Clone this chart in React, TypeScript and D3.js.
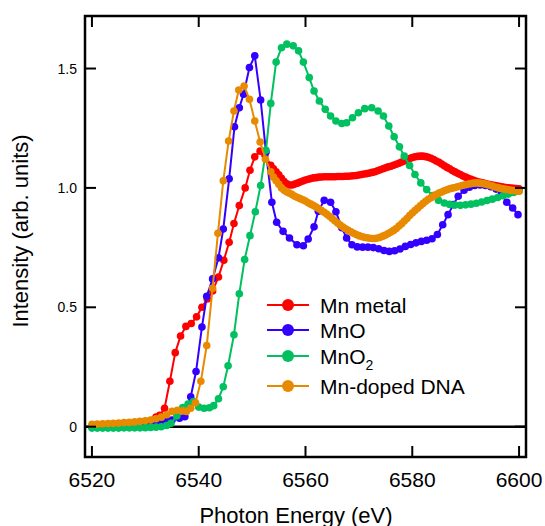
import React from 'react';
import * as d3 from 'd3';

// [energy (eV), intensity]
const mnMetal: [number, number][] = [
  [6520, 0.0], [6521, 0.002], [6522, 0.003], [6523, 0.004], [6524, 0.005], [6525, 0.006],
  [6526, 0.008], [6527, 0.01], [6528, 0.012], [6529, 0.015], [6530, 0.019], [6531, 0.026],
  [6532, 0.04], [6532.7, 0.048], [6533.6, 0.077], [6534.6, 0.19], [6535.6, 0.31], [6536.6, 0.38],
  [6537.6, 0.42], [6538.6, 0.432], [6539.6, 0.46], [6540.6, 0.5], [6541.6, 0.535], [6542.6, 0.568],
  [6543.7, 0.627], [6544.7, 0.697], [6545.7, 0.772], [6546.6, 0.851], [6547.6, 0.926], [6548.7, 1.0],
  [6549.6, 1.074], [6550.5, 1.13], [6551.5, 1.154], [6552.4, 1.138], [6553.5, 1.095],
  [6554, 1.08], [6554.5, 1.068], [6555, 1.055], [6555.5, 1.04], [6556, 1.027], [6556.5, 1.017],
  [6557, 1.012], [6557.5, 1.012], [6558, 1.016], [6558.5, 1.02], [6559, 1.025], [6559.5, 1.029],
  [6560, 1.033], [6560.5, 1.036], [6561, 1.039], [6561.5, 1.042], [6562, 1.043], [6562.5, 1.045],
  [6563, 1.046], [6563.5, 1.047], [6564, 1.047], [6564.5, 1.047], [6565, 1.047], [6565.5, 1.047],
  [6566, 1.048], [6566.5, 1.048], [6567, 1.048], [6567.5, 1.049], [6568, 1.049], [6568.5, 1.05],
  [6569, 1.051], [6569.5, 1.052], [6570, 1.054], [6570.5, 1.056], [6571, 1.058], [6571.5, 1.06],
  [6572, 1.062], [6572.5, 1.065], [6573, 1.068], [6573.5, 1.072], [6574, 1.076], [6574.5, 1.08],
  [6575, 1.084], [6575.5, 1.088], [6576, 1.091], [6576.5, 1.095], [6577, 1.099], [6577.5, 1.103],
  [6578, 1.108], [6578.5, 1.113], [6579, 1.118], [6579.5, 1.123], [6580, 1.127], [6580.5, 1.13],
  [6581, 1.132], [6581.5, 1.133], [6582, 1.133], [6582.5, 1.131], [6583, 1.128], [6583.5, 1.124],
  [6584, 1.119], [6584.5, 1.113], [6585, 1.107], [6585.5, 1.1], [6586, 1.093], [6586.5, 1.086],
  [6587, 1.08], [6587.5, 1.073], [6588, 1.067], [6588.5, 1.061], [6589, 1.056], [6589.5, 1.05],
  [6590, 1.045], [6590.5, 1.04], [6591, 1.036], [6591.5, 1.032], [6592, 1.028], [6592.5, 1.025],
  [6593, 1.022], [6593.5, 1.019], [6594, 1.016], [6594.5, 1.014], [6595, 1.012], [6595.5, 1.01],
  [6596, 1.008], [6596.5, 1.006], [6597, 1.004], [6597.5, 1.002], [6598, 1.0], [6598.5, 0.999],
  [6599, 0.998], [6599.5, 0.997], [6600, 0.996],
];

const mnO: [number, number][] = [
  [6520, 0.0], [6521, 0.0], [6522, 0.0], [6523, 0.001], [6524, 0.001], [6525, 0.002],
  [6526, 0.002], [6527, 0.003], [6528, 0.003], [6529, 0.004], [6530, 0.005], [6531, 0.008],
  [6532, 0.012], [6533, 0.016], [6534, 0.022], [6535, 0.028], [6536.4, 0.035], [6537.4, 0.042],
  [6538.5, 0.125], [6539.5, 0.231], [6540.6, 0.417], [6541.5, 0.546], [6542.6, 0.619], [6543.7, 0.707],
  [6544.6, 0.828], [6545.7, 1.038], [6546.7, 1.256], [6547.6, 1.336], [6548.4, 1.392], [6549.5, 1.504],
  [6550.5, 1.553], [6551.6, 1.368], [6552.6, 1.15], [6553.7, 0.94], [6554.6, 0.856], [6555.8, 0.818],
  [6557, 0.79], [6558.4, 0.762], [6559.6, 0.758], [6560.5, 0.786], [6561.6, 0.837], [6562.4, 0.902],
  [6563.5, 0.948], [6564.7, 0.94], [6565.7, 0.9], [6566.8, 0.833], [6567.7, 0.79], [6568.7, 0.762],
  [6569.7, 0.753], [6570.7, 0.752], [6571.7, 0.752], [6572.7, 0.75], [6573.7, 0.745], [6574.7, 0.738],
  [6575.7, 0.734], [6576.7, 0.737], [6577.7, 0.744], [6578.7, 0.755], [6579.7, 0.763], [6580.7, 0.77],
  [6581.7, 0.776], [6582.7, 0.781], [6583.7, 0.787], [6584.7, 0.805], [6585.7, 0.846], [6586.7, 0.888],
  [6587.7, 0.93], [6588.6, 0.965], [6589.7, 0.99], [6590.7, 1.003], [6591.7, 1.01], [6592.7, 1.012],
  [6593.7, 1.01], [6594.7, 1.005], [6595.7, 0.995], [6596.7, 0.975], [6597.7, 0.94], [6598.8, 0.916],
  [6599.8, 0.888],
];

const mnO2: [number, number][] = [
  [6520, -0.006], [6521, -0.006], [6522, -0.006], [6523, -0.006], [6524, -0.006], [6525, -0.006],
  [6526, -0.005], [6527, -0.005], [6528, -0.005], [6529, -0.005], [6530, -0.004], [6531, -0.003],
  [6532, -0.002], [6533, 0.0], [6534, 0.005], [6534.8, 0.014], [6535.9, 0.045], [6537, 0.08],
  [6538, 0.095], [6539, 0.105], [6540, 0.082], [6541, 0.077], [6542, 0.079], [6542.8, 0.088],
  [6543.7, 0.117], [6544.6, 0.167], [6545.5, 0.255], [6546.6, 0.385], [6547.6, 0.557], [6548.6, 0.7],
  [6549.6, 0.8], [6550.6, 0.9], [6551.6, 1.01], [6552.6, 1.158], [6553.5, 1.354], [6554.5, 1.527],
  [6555.5, 1.587], [6556.5, 1.602], [6557.7, 1.595], [6558.7, 1.574], [6559.6, 1.527], [6560.7, 1.462],
  [6561.6, 1.406], [6562.6, 1.364], [6563.7, 1.329], [6564.7, 1.301], [6565.7, 1.28], [6566.8, 1.27],
  [6567.7, 1.273], [6568.8, 1.294], [6569.9, 1.315], [6571.1, 1.332], [6572.4, 1.336], [6573.6, 1.322],
  [6574.6, 1.301], [6575.6, 1.259], [6576.6, 1.214], [6577.6, 1.172], [6578.5, 1.133], [6579.5, 1.094],
  [6580.5, 1.056], [6581.6, 1.021], [6582.7, 0.993], [6583.8, 0.968], [6584.9, 0.948], [6586, 0.937],
  [6587, 0.931], [6588, 0.928], [6589, 0.927], [6590, 0.929], [6591, 0.932], [6592, 0.936],
  [6593, 0.941], [6594, 0.947], [6595, 0.953], [6596, 0.96], [6597, 0.967], [6598, 0.974],
  [6599, 0.981], [6600, 0.987],
];

const mnDNA: [number, number][] = [
  [6520, 0.01], [6521, 0.011], [6522, 0.012], [6523, 0.013], [6524, 0.014], [6525, 0.015],
  [6526, 0.017], [6527, 0.018], [6528, 0.02], [6529, 0.022], [6530, 0.025], [6531, 0.028],
  [6532, 0.033], [6533, 0.04], [6534, 0.05], [6535, 0.064], [6536, 0.069], [6537, 0.066],
  [6537.7, 0.064], [6538.5, 0.077], [6539.4, 0.1], [6540.4, 0.19], [6541.5, 0.34], [6542.6, 0.58],
  [6543.6, 0.81], [6544.6, 1.03], [6545.6, 1.196], [6546.6, 1.322], [6547.5, 1.41], [6548.5, 1.427],
  [6549.5, 1.371], [6550.5, 1.28], [6551.5, 1.192], [6552.5, 1.12], [6553.5, 1.068],
  [6554, 1.045], [6554.5, 1.03], [6555, 1.015], [6555.5, 1.0], [6556, 0.99], [6556.5, 0.983],
  [6557, 0.978], [6557.5, 0.972], [6558, 0.965], [6558.5, 0.96], [6559, 0.955], [6559.5, 0.95],
  [6560, 0.945], [6560.5, 0.938], [6561, 0.932], [6561.5, 0.926], [6562, 0.92], [6562.5, 0.913],
  [6563, 0.905], [6563.5, 0.898], [6564, 0.89], [6564.5, 0.881], [6565, 0.872], [6565.5, 0.862],
  [6566, 0.853], [6566.5, 0.844], [6567, 0.836], [6567.5, 0.829], [6568, 0.822], [6568.5, 0.816],
  [6569, 0.81], [6569.5, 0.805], [6570, 0.8], [6570.5, 0.796], [6571, 0.793], [6571.5, 0.791],
  [6572, 0.789], [6572.5, 0.788], [6573, 0.788], [6573.5, 0.79], [6574, 0.793], [6574.5, 0.798],
  [6575, 0.803], [6575.5, 0.809], [6576, 0.815], [6576.5, 0.822], [6577, 0.83], [6577.5, 0.84],
  [6578, 0.85], [6578.5, 0.861], [6579, 0.872], [6579.5, 0.884], [6580, 0.895], [6580.5, 0.905],
  [6581, 0.915], [6581.5, 0.925], [6582, 0.935], [6582.5, 0.944], [6583, 0.952], [6583.5, 0.959],
  [6584, 0.966], [6584.5, 0.972], [6585, 0.978], [6585.5, 0.983], [6586, 0.988], [6586.5, 0.992],
  [6587, 0.996], [6587.5, 0.999], [6588, 1.002], [6588.5, 1.005], [6589, 1.008], [6589.5, 1.011],
  [6590, 1.013], [6590.5, 1.016], [6591, 1.018], [6591.5, 1.02], [6592, 1.021], [6592.5, 1.02],
  [6593, 1.019], [6593.5, 1.017], [6594, 1.014], [6594.5, 1.011], [6595, 1.008], [6595.5, 1.004],
  [6596, 1.001], [6596.5, 0.998], [6597, 0.996], [6597.5, 0.994], [6598, 0.992], [6598.5, 0.99],
  [6599, 0.989], [6599.5, 0.987], [6600, 0.986],
];

const xTicks = [6520, 6540, 6560, 6580, 6600];
const yTicks = [0, 0.5, 1.0, 1.5];
const yTickLabels = ['0', '0.5', '1.0', '1.5'];

const seriesNames = ['Mn metal', 'MnO', 'MnO2', 'Mn-doped DNA'];
const seriesColors = ['#ff0000', '#3300ff', '#00c060', '#e88a00'];
const seriesData = [mnMetal, mnO, mnO2, mnDNA];

const App = () => {
  const Width = 545;
  const Height = 526;
  const left = 85;
  const right = 526;
  const top = 16;
  const bottom = 457;
  const font = "'Liberation Sans', Arial, sans-serif";

  const xScale = d3.scaleLinear().domain([6518.7, 6601.3]).range([left, right]);
  const yScale = d3.scaleLinear().domain([-0.127, 1.72]).range([bottom, top]);

  const line = d3
    .line<[number, number]>()
    .x((d) => xScale(d[0]))
    .y((d) => yScale(d[1]));

  const legendRows = [305, 330, 356, 386];

  return (
    <svg
      width={Width}
      height={Height}
      style={{ position: 'absolute', left: 0, top: 0, background: '#fff' }}
    >
      {/* zero line */}
      <line x1={left} x2={right} y1={yScale(0)} y2={yScale(0)} stroke="#000" strokeWidth={2.5} />

      {seriesData.map((data, i) => (
        <g key={seriesNames[i]}>
          <path d={line(data) || ''} fill="none" stroke={seriesColors[i]} strokeWidth={2} />
          {data.map((d, j) => (
            <circle key={j} cx={xScale(d[0])} cy={yScale(d[1])} r={3.8} fill={seriesColors[i]} />
          ))}
        </g>
      ))}

      {/* frame */}
      <rect
        x={left}
        y={top}
        width={right - left}
        height={bottom - top}
        fill="none"
        stroke="#000"
        strokeWidth={2.5}
      />

      {xTicks.map((t) => (
        <g key={t}>
          <line x1={xScale(t)} x2={xScale(t)} y1={bottom} y2={bottom - 11} stroke="#000" strokeWidth={2} />
          <line x1={xScale(t)} x2={xScale(t)} y1={top} y2={top + 11} stroke="#000" strokeWidth={2} />
          <text x={xScale(t)} y={487} textAnchor="middle" style={{ fontSize: '21px', fontFamily: font }}>
            {t}
          </text>
        </g>
      ))}

      {yTicks.map((t, i) => (
        <g key={t}>
          <line x1={left} x2={left + 11} y1={yScale(t)} y2={yScale(t)} stroke="#000" strokeWidth={2} />
          <line x1={right} x2={right - 11} y1={yScale(t)} y2={yScale(t)} stroke="#000" strokeWidth={2} />
          <text x={77} y={yScale(t) + 5} textAnchor="end" style={{ fontSize: '14px', fontFamily: font }}>
            {yTickLabels[i]}
          </text>
        </g>
      ))}

      <text
        transform="translate(28, 231) rotate(-90)"
        textAnchor="middle"
        style={{ fontSize: '22px', fontFamily: font }}
      >
        Intensity (arb. units)
      </text>
      <text x={296} y={523} textAnchor="middle" style={{ fontSize: '22px', fontFamily: font }}>
        Photon Energy (eV)
      </text>

      {seriesNames.map((name, i) => (
        <g key={name} transform={`translate(0, ${legendRows[i]})`}>
          <line x1={267} x2={309} y1={0} y2={0} stroke={seriesColors[i]} strokeWidth={2} />
          <circle cx={288} cy={0} r={6} fill={seriesColors[i]} />
          <text x={320} y={7.5} style={{ fontSize: '21px', fontFamily: font }}>
            {name === 'MnO2' ? (
              <>
                MnO
                <tspan dy={6} style={{ fontSize: '14px' }}>2</tspan>
              </>
            ) : (
              name
            )}
          </text>
        </g>
      ))}
    </svg>
  );
};

export default App;
